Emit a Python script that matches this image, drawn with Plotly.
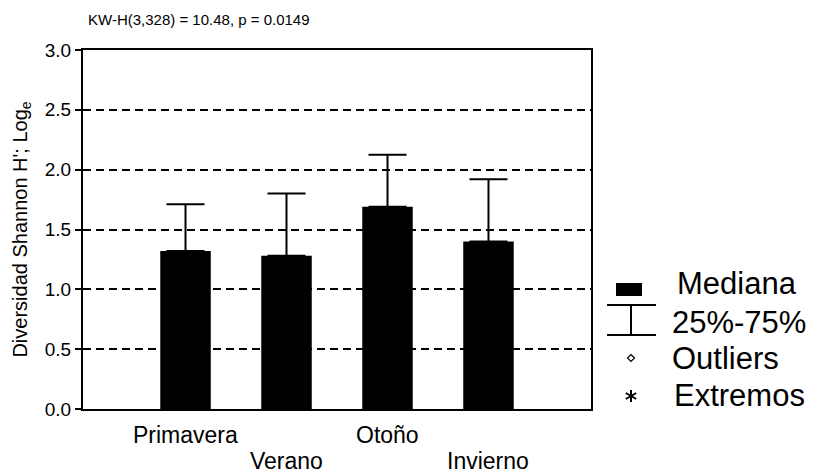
import plotly.graph_objects as go

# ---- data ----
categories = ["Primavera", "Verano", "Otoño", "Invierno"]
median_vals = [1.32, 1.28, 1.69, 1.40]
q75_vals = [1.71, 1.80, 2.125, 1.92]
y_ticks = [0.0, 0.5, 1.0, 1.5, 2.0, 2.5, 3.0]
title_text = "KW-H(3,328) = 10.48, p = 0.0149"
y_title = "Diversidad Shannon H'; Log<sub>e</sub>"
legend_labels = ["Mediana", "25%-75%", "Outliers", "Extremos"]

W, H = 816, 475
L, R, T, B = 83, 225, 50, 66
PW, PH = W - L - R, H - T - B
FONT = "Liberation Sans, Arial, sans-serif"

def px(x):
    return (x - L) / PW

def py(y):
    return (H - B - y) / PH

xpos = list(range(len(categories)))
upper = [q - m for q, m in zip(q75_vals, median_vals)]

fig = go.Figure()
fig.add_trace(go.Bar(
    x=xpos, y=median_vals, width=0.5,
    marker=dict(color="black", line=dict(width=0)),
    error_y=dict(type="data", symmetric=False, array=upper,
                 arrayminus=[0] * len(upper), color="black",
                 thickness=2, width=19),
    showlegend=False,
))

annotations = []
for i, c in enumerate(categories):
    annotations.append(dict(
        x=i, xref="x", y=py(435 if i % 2 == 0 else 461), yref="paper",
        text=c, showarrow=False, xanchor="center", yanchor="middle",
        font=dict(family=FONT, size=23, color="black")))

# legend texts
leg_y = [283, 322, 358, 395]
leg_x = [675, 670, 670, 672]
for t, yy, xx in zip(legend_labels, leg_y, leg_x):
    annotations.append(dict(
        x=px(xx), xref="paper", y=py(yy), yref="paper", text=t,
        showarrow=False, xanchor="left", yanchor="middle",
        font=dict(family=FONT, size=31, color="black")))

shapes = []
# Mediana box
shapes.append(dict(type="rect", xref="paper", yref="paper",
                   x0=px(616), x1=px(642), y0=py(296), y1=py(283),
                   fillcolor="black", line=dict(width=0)))
# 25-75 symbol
for (x0, y0, x1, y1) in [(607, 305, 656, 305), (607, 335, 656, 335), (631, 305, 631, 335)]:
    shapes.append(dict(type="line", xref="paper", yref="paper",
                       x0=px(x0), x1=px(x1), y0=py(y0), y1=py(y1),
                       line=dict(color="black", width=2)))
# outlier diamond
cx, cy, r = 631, 358, 3.5
shapes.append(dict(type="path", xref="paper", yref="paper",
                   path=f"M {px(cx)},{py(cy - r)} L {px(cx + r)},{py(cy)} L {px(cx)},{py(cy + r)} L {px(cx - r)},{py(cy)} Z",
                   line=dict(color="black", width=1.2)))
# extreme asterisk
cx, cy, r = 631, 396, 6
for (dx, dy) in [(0, r), (r * 0.87, r * 0.5), (r * 0.87, -r * 0.5)]:
    shapes.append(dict(type="line", xref="paper", yref="paper",
                       x0=px(cx - dx), x1=px(cx + dx), y0=py(cy - dy), y1=py(cy + dy),
                       line=dict(color="black", width=2)))

fig.update_layout(
    width=W, height=H,
    margin=dict(l=L, r=R, t=T, b=B, pad=0),
    paper_bgcolor="white", plot_bgcolor="white",
    font=dict(family=FONT, color="black"),
    title=dict(text=title_text, x=px(88), xref="paper", xanchor="left",
               y=1 - 20 / H, yref="container", yanchor="middle",
               font=dict(family=FONT, size=15, color="black")),
    xaxis=dict(range=[-1.015, 4.015], showticklabels=False, ticks="",
               showgrid=False, zeroline=False, showline=True, mirror=True,
               linecolor="black", linewidth=2, fixedrange=True),
    yaxis=dict(range=[0, 3], tickvals=y_ticks, tickformat=".1f",
               ticks="outside", ticklen=6, tickwidth=2, tickcolor="black",
               tickfont=dict(family=FONT, size=19, color="black"),
               showgrid=True, gridcolor="black", gridwidth=2, griddash="8px,5px",
               zeroline=False, showline=True, mirror=True,
               linecolor="black", linewidth=2,
               title=dict(text=y_title, standoff=12,
                          font=dict(family=FONT, size=20, color="black"))),
    annotations=annotations,
    shapes=shapes,
    bargap=0.5,
)

fig.write_html("out.html")
